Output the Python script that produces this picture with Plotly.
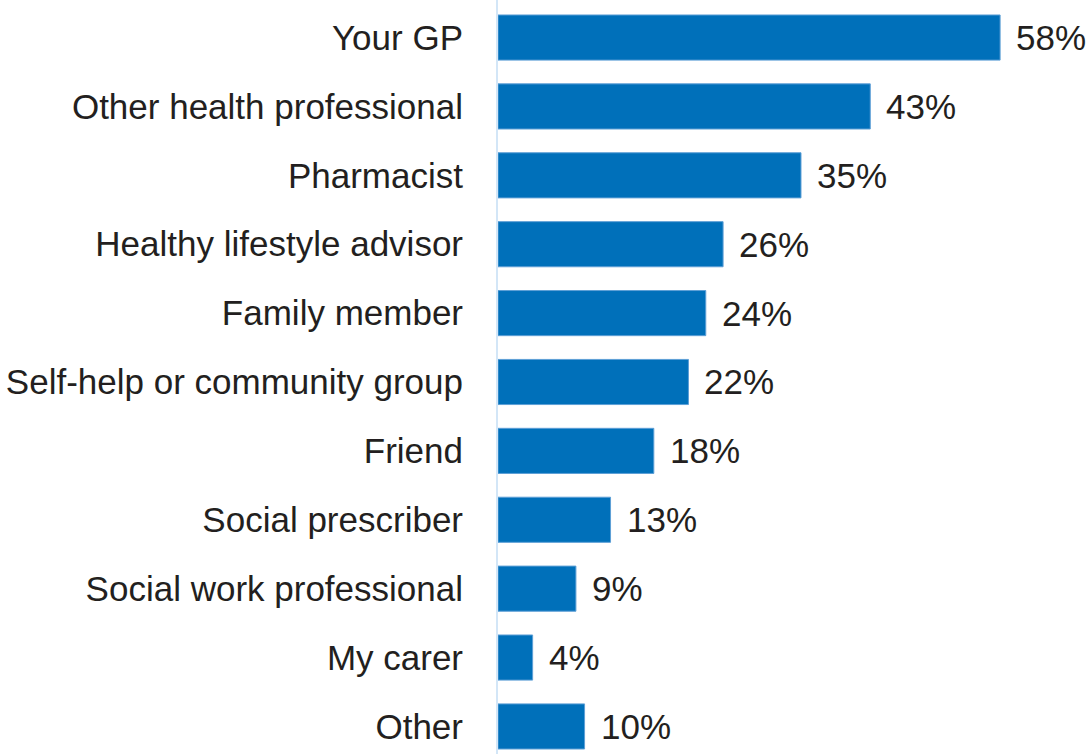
import plotly.graph_objects as go

categories = [
    "Your GP",
    "Other health professional",
    "Pharmacist",
    "Healthy lifestyle advisor",
    "Family member",
    "Self-help or community group",
    "Friend",
    "Social prescriber",
    "Social work professional",
    "My carer",
    "Other",
]
values = [58, 43, 35, 26, 24, 22, 18, 13, 9, 4, 10]

FONT = "Liberation Sans"
FONT_SIZE = 35
TEXT_COLOR = "#231f20"
BAR_COLOR = "#0070ba"

fig = go.Figure(
    go.Bar(
        x=values,
        y=categories,
        orientation="h",
        marker=dict(color=BAR_COLOR, line=dict(color="#5d9fd6", width=1)),
        width=0.655,
        hoverinfo="skip",
    )
)

for cat, val in zip(categories, values):
    fig.add_annotation(
        x=val, y=cat, text=f"{val}%", showarrow=False,
        xanchor="left", xshift=14,
        font=dict(family=FONT, size=FONT_SIZE, color=TEXT_COLOR),
    )

fig.update_layout(
    width=1091,
    height=754,
    margin=dict(l=498, r=0, t=0, b=0),
    paper_bgcolor="white",
    plot_bgcolor="white",
    showlegend=False,
    font=dict(family=FONT, size=FONT_SIZE, color=TEXT_COLOR),
    xaxis=dict(range=[0, 68.5], visible=False, fixedrange=True),
    yaxis=dict(
        categoryorder="array",
        categoryarray=categories,
        range=[10.4, -0.545],
        showgrid=False,
        zeroline=False,
        showline=True,
        linecolor="#d3e6f7",
        linewidth=2,
        ticks="",
        ticklabelstandoff=26,
        tickfont=dict(family=FONT, size=FONT_SIZE, color=TEXT_COLOR),
        fixedrange=True,
    ),
)

fig.write_html("out.html")
